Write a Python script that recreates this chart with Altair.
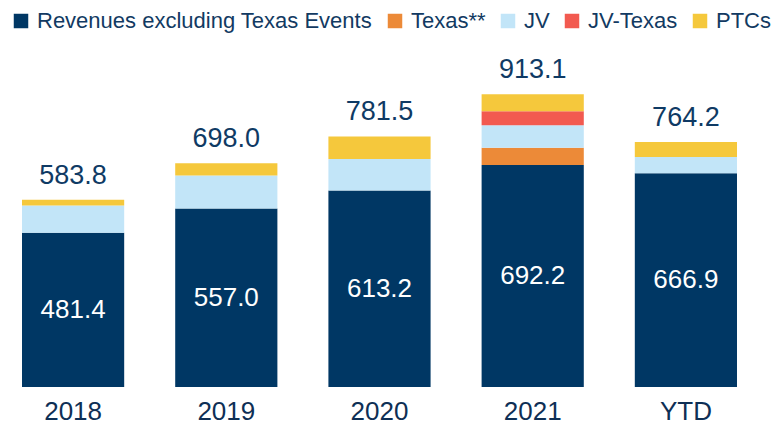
import altair as alt
import pandas as pd

categories = ["2018", "2019", "2020", "2021", "YTD"]
series = ["Revenues excluding Texas Events", "Texas**", "JV", "JV-Texas", "PTCs"]
revenues_ex_texas = [481.4, 557.0, 613.2, 692.2, 666.9]
texas = [0.0, 0.0, 0.0, 54.3, 0.0]
jv = [84.5, 103.0, 97.5, 69.6, 50.7]
jv_texas = [0.0, 0.0, 0.0, 43.7, 0.0]
ptcs = [17.9, 38.0, 70.8, 53.3, 46.6]
totals = [583.8, 698.0, 781.5, 913.1, 764.2]
colors = ["#003764", "#EC8A38", "#C2E5F8", "#F25A50", "#F5C83C"]

FONT = "Liberation Sans"
NAVY_TEXT = "#0F3A64"

rows = []
for s_idx, (name, vals) in enumerate(zip(series, [revenues_ex_texas, texas, jv, jv_texas, ptcs])):
    for c, v in zip(categories, vals):
        if v > 0:
            rows.append({"cat": c, "series": name, "value": v, "order": s_idx})
df = pd.DataFrame(rows)

df_base = pd.DataFrame({"cat": categories, "base": revenues_ex_texas,
                        "mid": [v / 2 for v in revenues_ex_texas]})
df_tot = pd.DataFrame({"cat": categories, "total": totals})

xenc = alt.X("cat:N", sort=categories,
             scale=alt.Scale(paddingInner=0.333, paddingOuter=0.0914),
             axis=alt.Axis(title=None, labelAngle=0, labelFontSize=26, labelFont=FONT,
                           labelColor="#0E2F55", labelPadding=32, labelBaseline="alphabetic",
                           ticks=False, tickSize=0, domain=False, grid=False))
yscale = alt.Scale(domain=[0, 1182], nice=False, zero=True)

bars = alt.Chart(df).mark_bar().encode(
    x=xenc,
    y=alt.Y("value:Q", stack="zero", scale=yscale, axis=None),
    color=alt.Color("series:N", scale=alt.Scale(domain=series, range=colors),
                    legend=alt.Legend(orient="none", legendX=2, legendY=2, direction="horizontal",
                                      title=None, symbolType="square", symbolSize=210,
                                      symbolStrokeWidth=0, labelFontSize=22, labelFont=FONT,
                                      labelColor="#123A62", columnPadding=11, labelOffset=5,
                                      labelLimit=500, padding=0)),
    order=alt.Order("order:Q", sort="ascending"),
)

inside = alt.Chart(df_base).mark_text(color="white", fontSize=26, font=FONT, baseline="middle").encode(
    x=alt.X("cat:N", sort=categories),
    y=alt.Y("mid:Q", scale=yscale, axis=None),
    text=alt.Text("base:Q", format=".1f"),
)

tops = alt.Chart(df_tot).mark_text(color=NAVY_TEXT, fontSize=27, font=FONT, baseline="alphabetic", dy=-16).encode(
    x=alt.X("cat:N", sort=categories),
    y=alt.Y("total:Q", scale=yscale, axis=None),
    text=alt.Text("total:Q", format=".1f"),
)

chart = alt.layer(bars, inside, tops).properties(
    width=743, height=379,
    autosize=alt.AutoSizeParams(type="none"),
    padding={"left": 0, "top": 0, "right": 20, "bottom": 38},
).configure_view(stroke=None)

chart.save("out.html", embed_options={"renderer": "svg", "actions": False})
